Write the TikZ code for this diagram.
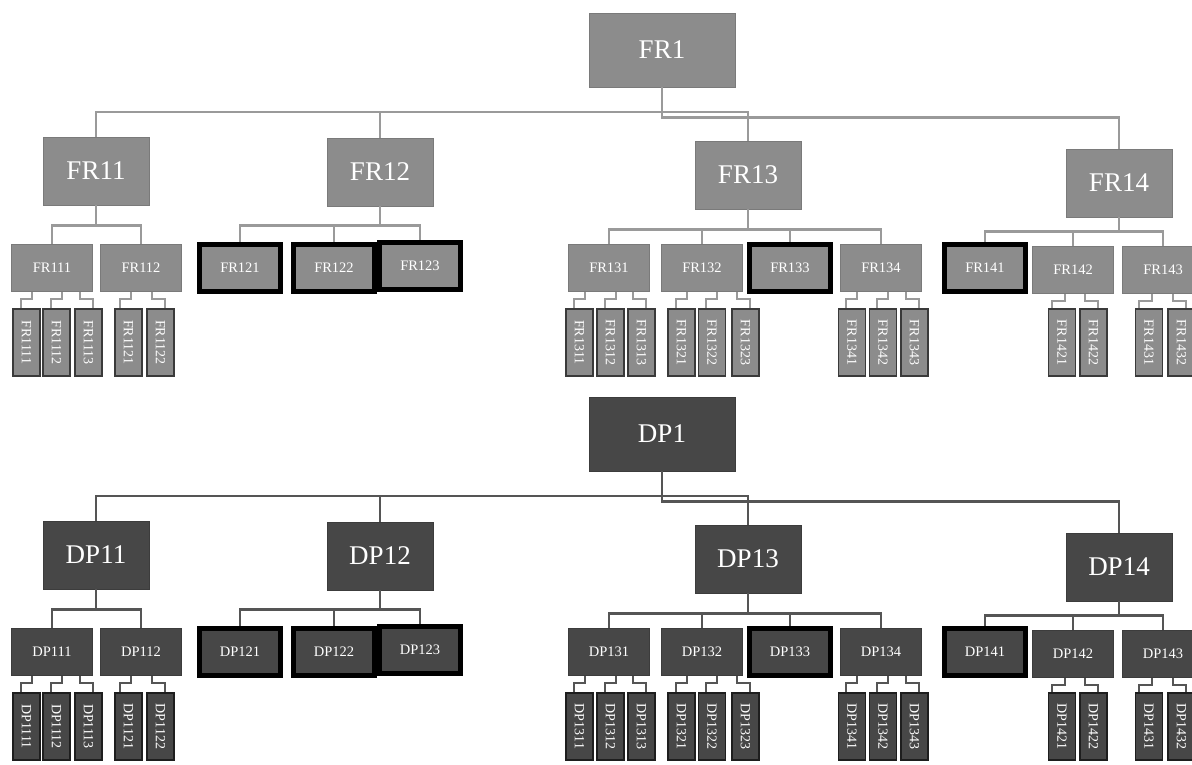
\documentclass[tikz,border=0pt]{standalone}
\usepackage{fontspec}
\setmainfont{Liberation Serif}
\definecolor{FRbox}{HTML}{8C8C8C}
\definecolor{FRedge}{HTML}{7A7A7A}
\definecolor{FRline}{HTML}{9A9A9A}
\definecolor{FRleaf}{HTML}{3A3A3A}
\definecolor{DPbox}{HTML}{474747}
\definecolor{DPedge}{HTML}{3C3C3C}
\definecolor{DPline}{HTML}{555555}
\definecolor{DPleaf}{HTML}{1E1E1E}
\tikzset{
  boxbase/.style={fill=#1box, draw=#1edge, line width=0.8pt, text=white, inner sep=0pt},
  rootbox/.style={boxbase=#1, minimum width=146pt, minimum height=74pt, font=\fontsize{27}{29}\selectfont},
  midbox/.style={boxbase=#1, minimum width=106pt, minimum height=68pt, font=\fontsize{27}{29}\selectfont},
  subbox/.style={boxbase=#1, minimum width=81pt, minimum height=47pt, font=\fontsize{14.5}{16}\selectfont},
  keybox/.style={subbox=#1, draw=black, line width=5pt},
  leafbox/.style={boxbase=#1, draw=#1leaf, line width=1.5pt, minimum width=27pt, minimum height=67pt, font=\fontsize{14}{15}\selectfont},
  link/.style={draw=#1line, line width=2.5pt},
  twig/.style={draw=#1line, line width=2pt}
}
\begin{document}
\begin{tikzpicture}[x=1pt, y=-1pt]
\useasboundingbox (0,0) rectangle (1192,764);
% FR tree on top, DP tree below it
\foreach \p/\dy in {FR/0, DP/-384} {
\begin{scope}[yshift=\dy pt]
\node[rootbox=\p] (\p1) at (662,50) {\p1};
\node[midbox=\p] (\p11) at (96,171) {\p11};
\node[midbox=\p] (\p12) at (380,172) {\p12};
\node[midbox=\p] (\p13) at (748,175) {\p13};
\node[midbox=\p] (\p14) at (1119,183) {\p14};
\node[subbox=\p] (\p111) at (52,268) {\p111};
\node[subbox=\p] (\p112) at (141,268) {\p112};
\node[keybox=\p] (\p121) at (240,268) {\p121};
\node[keybox=\p] (\p122) at (334,268) {\p122};
\node[keybox=\p] (\p123) at (420,266) {\p123};
\node[subbox=\p] (\p131) at (609,268) {\p131};
\node[subbox=\p] (\p132) at (702,268) {\p132};
\node[keybox=\p] (\p133) at (790,268) {\p133};
\node[subbox=\p] (\p134) at (881,268) {\p134};
\node[keybox=\p] (\p141) at (985,268) {\p141};
\node[subbox=\p] (\p142) at (1073,270) {\p142};
\node[subbox=\p] (\p143) at (1163,270) {\p143};
\foreach \n/\lx in {1111/26.5, 1112/56.5, 1113/88.5, 1121/128.5, 1122/160.5,
    1311/579.5, 1312/610.5, 1313/641.5, 1321/681.5, 1322/712, 1323/745.5,
    1341/852, 1342/883, 1343/914.5, 1421/1062, 1422/1093.5, 1431/1149, 1432/1181.5}
  \node[leafbox=\p] (\p\n) at (\lx,342.5) {\rotatebox{-90}{\p\n}};
% connectors
\coordinate (j\p) at (662,112);
\draw[link=\p] (\p1.south) -- (j\p) -| (\p11.north);
\draw[link=\p] (j\p) -| (\p12.north);
\draw[link=\p] (j\p) -| (\p13.north);
\draw[link=\p] (\p1.south) -- ++(0,30) -| (\p14.north);
\foreach \a/\d/\b in {11/20/111, 11/20/112, 12/19/121, 12/19/122, 12/19/123,
    13/20/131, 13/20/132, 13/20/133, 13/20/134, 14/14/141, 14/14/142, 14/14/143}
  \draw[link=\p] (\p\a.south) -- ++(0,\d) -| (\p\b.north);
\foreach \a/\b/\sx/\tx in {111/1111/5/-6, 111/1112/5/-6, 111/1113/-9/4, 112/1121/2/-9, 112/1122/-9/4,
    131/1311/5/-6, 131/1312/5/-6, 131/1313/-9/4, 132/1321/5/-6, 132/1322/5/-6, 132/1323/-9/4,
    134/1341/5/-6, 134/1342/5/-6, 134/1343/-9/4, 142/1421/3/-10, 142/1422/-9/4,
    143/1431/3/-10, 143/1432/-9/4}
  \draw[twig=\p] ([xshift=\sx pt]\p\b.north |- \p\a.south) -- ++(0,7) -| ([xshift=\tx pt]\p\b.north);
\end{scope}
}
\end{tikzpicture}
\end{document}
